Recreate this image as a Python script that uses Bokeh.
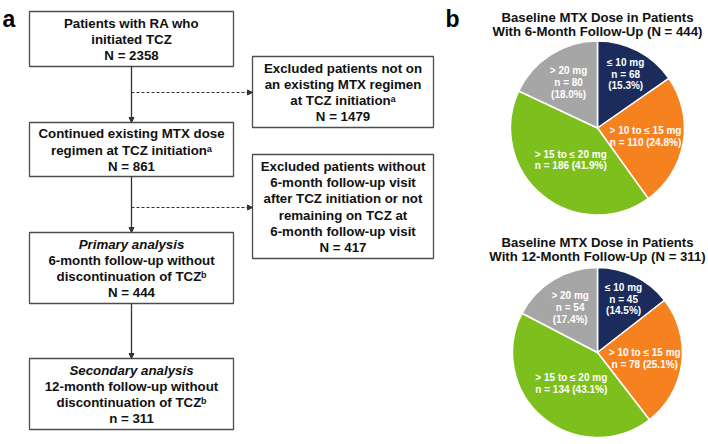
import numpy as np
from bokeh.plotting import figure
from bokeh.models import Range1d, ColumnDataSource, Arrow, NormalHead
from bokeh.core.properties import value
from bokeh.embed import file_html
from bokeh.resources import INLINE

# ---------------- data ----------------
dose_categories = ["\u2264 10 mg", "> 10 to \u2264 15 mg", "> 15 to \u2264 20 mg", "> 20 mg"]
counts_6m = [68, 110, 186, 80]
pcts_6m = [15.3, 24.8, 41.9, 18.0]
counts_12m = [45, 78, 134, 54]
pcts_12m = [14.5, 25.1, 43.1, 17.4]
n_6m = 444
n_12m = 311

flow_counts = {"initiated": 2358, "excl_mtx": 1479, "continued": 861,
               "excl_fu": 417, "primary": 444, "secondary": 311}

# ---------------- style / layout ----------------
slice_colors = ["#1b2b5c", "#f5821f", "#7dbf1c", "#a6a6a6"]
label_r_frac = [0.70, 0.56, 0.48, 0.62]
multiline_label = [True, False, False, True]
FONT = value("Liberation Sans")
W, H = 708, 444


def Y(py):  # pixel (from page top) -> data y
    return H - py


p = figure(width=W, height=H, output_backend="svg", toolbar_location=None,
           x_range=Range1d(0, W), y_range=Range1d(0, H), min_border=0)
p.axis.visible = False
p.grid.visible = False
p.outline_line_color = None
p.background_fill_color = "white"
p.border_fill_color = "white"

# ---------------- flowchart ----------------
boxes = [  # (x0, x1, y0, y1) in pixels
    (29, 233, 11, 66),
    (252, 433, 56, 127),
    (29, 233, 122, 176),
    (252, 433, 154, 258),
    (29, 233, 232, 303),
    (29, 233, 358, 429),
]
bx = [(b[0] + b[1]) / 2 for b in boxes]
by = [Y((b[2] + b[3]) / 2) for b in boxes]
bw = [b[1] - b[0] for b in boxes]
bh = [b[3] - b[2] for b in boxes]
p.rect(x=bx, y=by, width=bw, height=bh, fill_color="white",
       line_color="#4d4d4d", line_width=1.3)

texts = [
    [("Patients with RA who", False), ("initiated TCZ", False),
     (f"N = {flow_counts['initiated']}", False)],
    [("Excluded patients not on", False), ("an existing MTX regimen", False),
     ("at TCZ initiation\u1d43", False), (f"N = {flow_counts['excl_mtx']}", False)],
    [("Continued existing MTX dose", False), ("regimen at TCZ initiation\u1d43", False),
     (f"N = {flow_counts['continued']}", False)],
    [("Excluded patients without", False), ("6-month follow-up visit", False),
     ("after TCZ initiation or not", False), ("remaining on TCZ at", False),
     ("6-month follow-up visit", False), (f"N = {flow_counts['excl_fu']}", False)],
    [("Primary analysis", True), ("6-month follow-up without", False),
     ("discontinuation of TCZ\u1d47", False), (f"N = {flow_counts['primary']}", False)],
    [("Secondary analysis", True), ("12-month follow-up without", False),
     ("discontinuation of TCZ\u1d47", False), (f"n = {flow_counts['secondary']}", False)],
]
LS = 16.2
nx, ny, nt, ix, iy, it = [], [], [], [], [], []
for b, lines in zip(boxes, texts):
    cx = (b[0] + b[1]) / 2
    cy = (b[2] + b[3]) / 2 + 0.5
    n = len(lines)
    for i, (t, ital) in enumerate(lines):
        yy = Y(cy + (i - (n - 1) / 2) * LS)
        if ital:
            ix.append(cx); iy.append(yy); it.append(t)
        else:
            nx.append(cx); ny.append(yy); nt.append(t)
p.text(x=nx, y=ny, text=nt, text_font=FONT, text_font_style="bold",
       text_font_size="13.3px", text_align="center", text_baseline="middle",
       text_color="#111111")
p.text(x=ix, y=iy, text=it, text_font=FONT, text_font_style="bold italic",
       text_font_size="13.3px", text_align="center", text_baseline="middle",
       text_color="#111111")

# arrows
vx = 131
for y0, y1 in [(66, 122), (176, 232), (303, 358)]:
    p.add_layout(Arrow(end=NormalHead(size=5, fill_color="#333333", line_color="#333333"),
                       x_start=vx, y_start=Y(y0), x_end=vx, y_end=Y(y1),
                       line_color="#333333", line_width=1.3))
for yy in [92, 207]:
    p.add_layout(Arrow(end=NormalHead(size=5, fill_color="#333333", line_color="#333333"),
                       x_start=vx, y_start=Y(yy), x_end=252, y_end=Y(yy),
                       line_color="#333333", line_width=1.1, line_dash="3 2"))

# panel letters
p.text(x=[2, 445], y=[Y(18), Y(18)], text=["a", "b"], text_font=FONT,
       text_font_style="bold", text_font_size="23px", text_align="left",
       text_baseline="alphabetic", text_color="black")

# ---------------- pies ----------------
def pie(cx, cy_px, r, counts, pcts, n_total, months, title_y):
    cy = Y(cy_px)
    frac = np.array(counts, dtype=float) / n_total
    cum = np.concatenate([[0], np.cumsum(frac)])
    start = np.pi / 2 - 2 * np.pi * cum[:-1]
    end = np.pi / 2 - 2 * np.pi * cum[1:]
    src = ColumnDataSource(dict(start=start, end=end, color=slice_colors))
    p.wedge(x=cx, y=cy, radius=r, start_angle="start", end_angle="end",
            direction="clock", fill_color="color", line_color="white",
            line_width=1.5, source=src)
    # labels
    lx, ly, lt = [], [], []
    for i in range(len(counts)):
        mid = np.pi / 2 - 2 * np.pi * (cum[i] + cum[i + 1]) / 2
        rr = r * label_r_frac[i]
        px_, py_ = cx + rr * np.cos(mid), cy + rr * np.sin(mid)
        if multiline_label[i]:
            lines = [dose_categories[i], f"n = {counts[i]}", f"({pcts[i]:.1f}%)"]
        else:
            lines = [dose_categories[i], f"n = {counts[i]} ({pcts[i]:.1f}%)"]
        m = len(lines)
        for j, t in enumerate(lines):
            lx.append(px_); ly.append(py_ - (j - (m - 1) / 2) * 11.6); lt.append(t)
    p.text(x=lx, y=ly, text=lt, text_font=FONT, text_font_style="bold",
           text_font_size="10px", text_align="center", text_baseline="middle",
           text_color="white")
    p.text(x=[cx, cx], y=[Y(title_y), Y(title_y + 14.2)],
           text=["Baseline MTX Dose in Patients",
                 f"With {months}-Month Follow-Up (N = {n_total})"],
           text_font=FONT, text_font_style="bold", text_font_size="13.2px",
           text_align="center", text_baseline="middle", text_color="#111111")


pie(597, 127.5, 87, counts_6m, pcts_6m, n_6m, 6, 16.5)
pie(597, 352, 85, counts_12m, pcts_12m, n_12m, 12, 241.5)

open("out.html", "w").write(file_html(p, INLINE))
